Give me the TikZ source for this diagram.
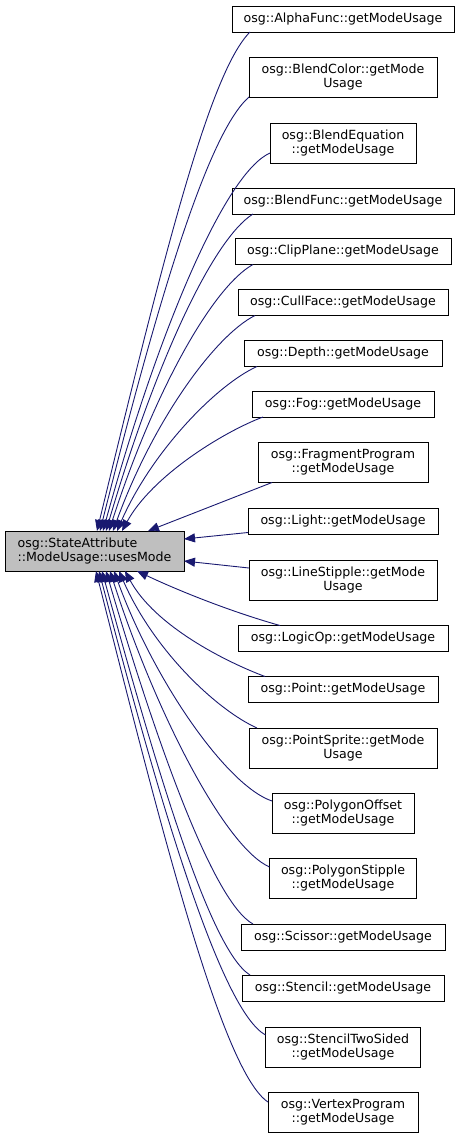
\documentclass[tikz,border=0pt]{standalone}
\usepackage{fontspec}
\setmainfont{DejaVu Sans}
\usetikzlibrary{arrows.meta}
\definecolor{edgeblue}{RGB}{25,25,112}
\definecolor{mainfill}{RGB}{191,191,191}
\begin{document}
\begin{tikzpicture}[x=1pt,y=1pt,
  box/.style={draw=black,line width=0.9pt,fill=white,inner sep=0pt,outer sep=0pt,align=center,font=\fontsize{12.6}{13.6}\selectfont},
  one/.style={box,minimum height=26pt},
  two/.style={box,minimum height=40pt},
  edge/.style={draw=edgeblue,line width=0.9pt,-{Triangle[length=11pt,width=9pt]}}]
\useasboundingbox (0,0) rectangle (460,-1138);
\node[box,fill=mainfill,minimum width=179pt,minimum height=40pt,align=left,font=\fontsize{12.6}{14.3}\selectfont] (main) at (94.5,-551) {osg::StateAttribute\\::ModeUsage::usesMode};
\node[one,minimum width=222pt] (a1) at (343,-19) {osg::AlphaFunc::getModeUsage};
\node[two,minimum width=188pt] (a2) at (343,-77) {osg::BlendColor::getMode\\Usage};
\node[two,minimum width=146pt] (a3) at (343,-143) {osg::BlendEquation\\::getModeUsage};
\node[one,minimum width=222pt] (a4) at (343,-201) {osg::BlendFunc::getModeUsage};
\node[one,minimum width=216pt] (a5) at (343,-251.5) {osg::ClipPlane::getModeUsage};
\node[one,minimum width=210pt] (a6) at (343,-302.5) {osg::CullFace::getModeUsage};
\node[one,minimum width=198pt] (a7) at (343,-353.5) {osg::Depth::getModeUsage};
\node[one,minimum width=182pt] (a8) at (343,-404) {osg::Fog::getModeUsage};
\node[two,minimum width=170pt] (a9) at (343,-462.5) {osg::FragmentProgram\\::getModeUsage};
\node[one,minimum width=190pt] (a10) at (343,-521.5) {osg::Light::getModeUsage};
\node[two,minimum width=188pt] (a11) at (343,-580) {osg::LineStipple::getMode\\Usage};
\node[one,minimum width=210pt] (a12) at (343,-638.5) {osg::LogicOp::getModeUsage};
\node[one,minimum width=190pt] (a13) at (343,-689.5) {osg::Point::getModeUsage};
\node[two,minimum width=188pt] (a14) at (343,-748) {osg::PointSprite::getMode\\Usage};
\node[two,minimum width=142pt] (a15) at (343,-813) {osg::PolygonOffset\\::getModeUsage};
\node[two,minimum width=147pt] (a16) at (343,-878) {osg::PolygonStipple\\::getModeUsage};
\node[one,minimum width=204pt] (a17) at (343,-937) {osg::Scissor::getModeUsage};
\node[one,minimum width=202pt] (a18) at (343,-988) {osg::Stencil::getModeUsage};
\node[two,minimum width=155pt] (a19) at (343,-1047) {osg::StencilTwoSided\\::getModeUsage};
\node[two,minimum width=150pt] (a20) at (343,-1112) {osg::VertexProgram\\::getModeUsage};
% edges to top of main
\draw[edge] ([xshift=18pt]a1.south west) .. controls +(-40,-40) and +(68,281) .. ([xshift=92pt]main.north west);
\draw[edge] (a2.south west) .. controls +(-40,-35) and +(60,240) .. ([xshift=95pt]main.north west);
\draw[edge] ([yshift=-10pt]a3.west) .. controls +(-45,-20) and +(55,200) .. ([xshift=98pt]main.north west);
\draw[edge] ([xshift=21pt]a4.south west) .. controls +(-40,-25) and +(50,170) .. ([xshift=101pt]main.north west);
\draw[edge] ([xshift=18pt]a5.south west) .. controls +(-40,-22) and +(45,140) .. ([xshift=104pt]main.north west);
\draw[edge] ([xshift=17pt]a6.south west) .. controls +(-40,-20) and +(40,110) .. ([xshift=108pt]main.north west);
\draw[edge] ([xshift=13pt]a7.south west) .. controls +(-40,-18) and +(35,80) .. ([xshift=112pt]main.north west);
\draw[edge] ([xshift=11pt]a8.south west) .. controls +(-40,-15) and +(30,55) .. ([xshift=117pt]main.north west);
\draw[edge] ([xshift=14pt]a9.south west) -- ([xshift=143pt]main.north west);
% edges to right side
\draw[edge] ([yshift=-11pt]a10.west) -- ([yshift=-8pt]main.north east);
\draw[edge] ([yshift=12pt]a11.west) -- ([yshift=10pt]main.south east);
% edges to bottom
\draw[edge] ([xshift=42pt]a12.north west) .. controls +(-50,14) and +(40,-19) .. ([xshift=132pt]main.south west);
\draw[edge] ([xshift=17pt]a13.north west) .. controls +(-40,15) and +(30,-55) .. ([xshift=120pt]main.south west);
\draw[edge] ([xshift=8pt]a14.north west) .. controls +(-40,18) and +(35,-80) .. ([xshift=114pt]main.south west);
\draw[edge] ([yshift=12pt]a15.west) .. controls +(-45,15) and +(40,-110) .. ([xshift=109pt]main.south west);
\draw[edge] ([yshift=11pt]a16.west) .. controls +(-45,20) and +(45,-140) .. ([xshift=105pt]main.south west);
\draw[edge] ([xshift=12pt]a17.north west) .. controls +(-40,22) and +(50,-170) .. ([xshift=101pt]main.south west);
\draw[edge] ([xshift=8pt]a18.north west) .. controls +(-40,25) and +(55,-200) .. ([xshift=97pt]main.south west);
\draw[edge] ([yshift=12pt]a19.west) .. controls +(-45,25) and +(60,-230) .. ([xshift=94pt]main.south west);
\draw[edge] ([yshift=10pt]a20.west) .. controls +(-45,30) and +(68,-270) .. ([xshift=91pt]main.south west);
\end{tikzpicture}
\end{document}
